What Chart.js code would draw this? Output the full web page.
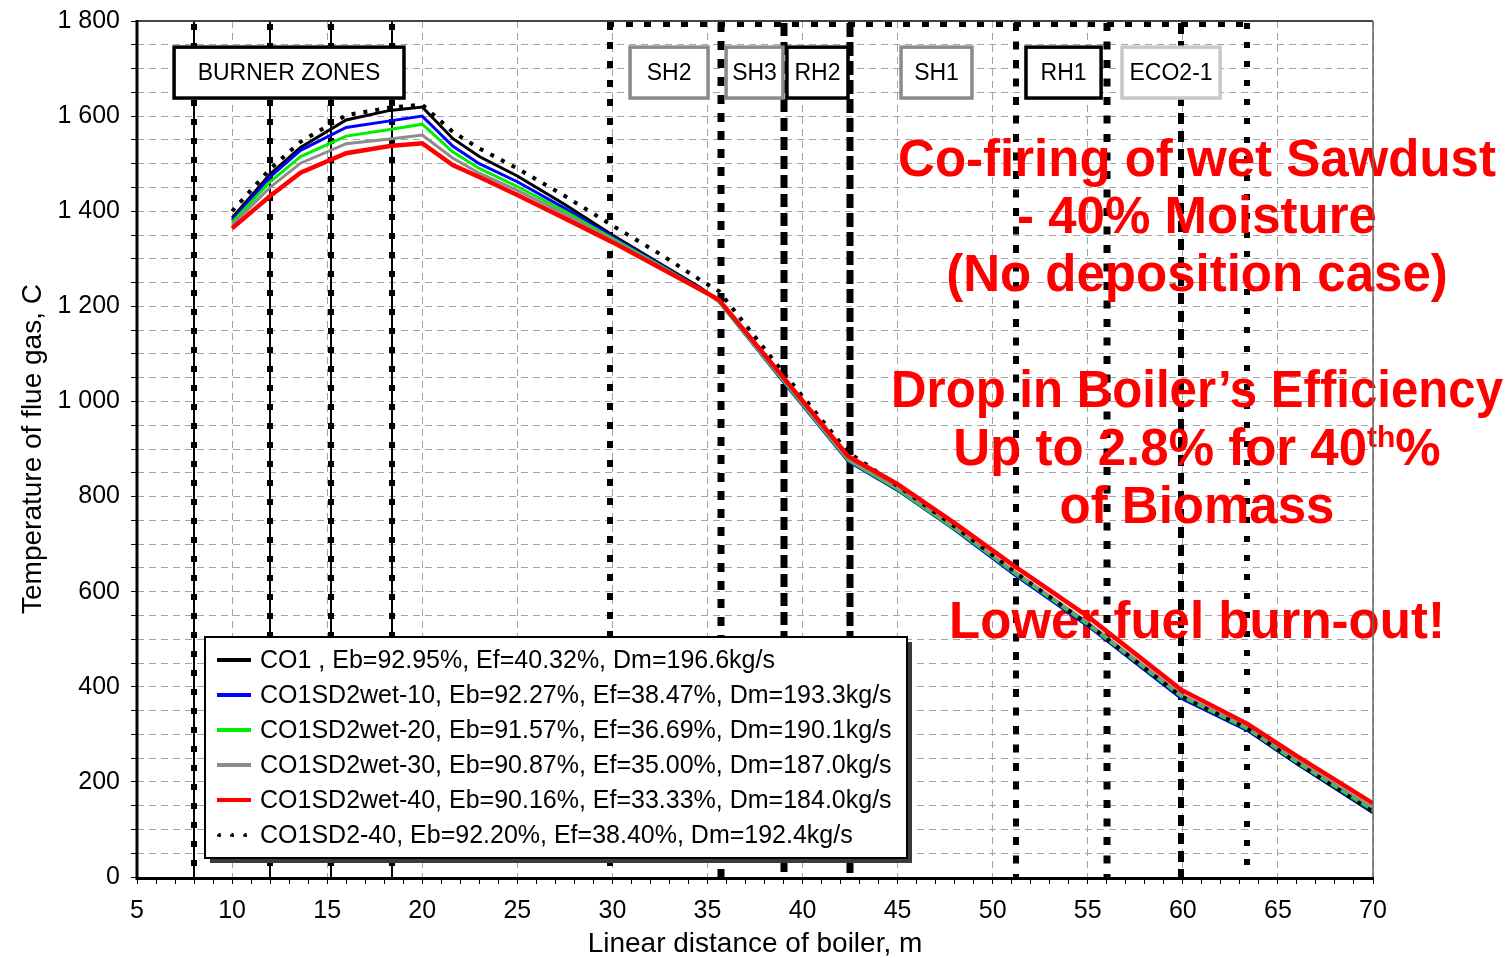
<!DOCTYPE html>
<html>
<head>
<meta charset="utf-8">
<script src="https://cdn.jsdelivr.net/npm/chart.js@4.4.1/dist/chart.umd.min.js"></script>
<style>
  html, body { margin: 0; padding: 0; background: #ffffff; }
  canvas { display: block; }
</style>
</head>
<body>
<canvas id="c" width="1511" height="958"></canvas>
<script>
// Distance along the boiler flue-gas path, m
const distance = [10, 12, 13.6, 16, 18.3, 20, 21.6, 23, 25, 27.5, 30, 32.5, 34.6, 35.6, 39, 42.4, 45, 48, 51.2, 55, 59.9, 63.4, 66, 70];

// Flue gas temperature, C
const tempCO1      = [1386, 1478, 1534, 1592, 1612, 1619, 1553, 1515, 1474, 1414, 1350, 1290, 1240, 1212, 1043, 876, 815, 732, 636, 530, 377, 309, 238, 135];
const tempWet10    = [1381, 1472, 1528, 1576, 1590, 1600, 1537, 1500, 1462, 1406, 1346, 1288, 1238, 1210, 1041, 874, 813, 730, 634, 528, 376, 308, 238, 136];
const tempWet20    = [1376, 1462, 1515, 1558, 1572, 1583, 1525, 1490, 1452, 1400, 1343, 1286, 1237, 1210, 1043, 876, 815, 732, 637, 531, 380, 311, 241, 140];
const tempWet30    = [1371, 1450, 1501, 1542, 1552, 1560, 1512, 1480, 1444, 1394, 1340, 1284, 1236, 1211, 1045, 878, 818, 735, 641, 535, 384, 315, 245, 145];
const tempWet40    = [1364, 1432, 1481, 1522, 1537, 1543, 1497, 1472, 1434, 1385, 1335, 1281, 1236, 1214, 1050, 885, 826, 744, 652, 548, 394, 322, 254, 155];
const tempSD240    = [1400, 1489, 1546, 1602, 1618, 1624, 1567, 1532, 1490, 1432, 1370, 1310, 1256, 1232, 1060, 893, 823, 737, 640, 532, 380, 312, 240, 137];

const seriesLabels = [
  'CO1 , Eb=92.95%, Ef=40.32%, Dm=196.6kg/s',
  'CO1SD2wet-10, Eb=92.27%, Ef=38.47%, Dm=193.3kg/s',
  'CO1SD2wet-20, Eb=91.57%, Ef=36.69%, Dm=190.1kg/s',
  'CO1SD2wet-30, Eb=90.87%, Ef=35.00%, Dm=187.0kg/s',
  'CO1SD2wet-40, Eb=90.16%, Ef=33.33%, Dm=184.0kg/s',
  'CO1SD2-40, Eb=92.20%, Ef=38.40%, Dm=192.4kg/s'
];

// Heat-exchanger zone boundaries along the path, m
const zoneBounds = [8, 12, 15.2, 18.4, 29.9, 35.7, 39.0, 42.5, 51.2, 56.0, 59.9, 63.4];
const zoneLabels = ['BURNER ZONES', 'SH2', 'SH3', 'RH2', 'SH1', 'RH1', 'ECO2-1'];

const noteLines = [
  'Co-firing of wet Sawdust',
  '- 40% Moisture',
  '(No deposition case)',
  'Drop in Boiler\u2019s Efficiency',
  'Up to 2.8% for 40{th}%',
  'of Biomass',
  'Lower fuel burn-out!'
];

// ---------- layout & styles ----------
const FONT = '"Liberation Sans", Arial, sans-serif';
const GRID = '#a4a4a4';

const zoneLineStyle = [
  { burner: true }, { burner: true }, { burner: true }, { burner: true },
  { w: 6, dash: [7, 12] },
  { w: 7, dash: [9, 9] },
  { w: 7, dash: [13, 6] },
  { w: 7, dash: [14, 5] },
  { w: 6, dash: [8, 10.5] },
  { w: 7, dash: [8, 10.5] },
  { w: 6, dash: [11, 7] },
  { w: 6, dash: [6, 13] }
];

const labelBoxSpan = [[6.95, 19.04], [30.93, 35.03], [35.98, 38.97], [39.18, 42.39], [45.18, 48.91], [51.75, 55.70], [56.80, 61.96]];
const labelBoxColor = ['#000000', '#8a8a8a', '#8a8a8a', '#000000', '#8a8a8a', '#000000', '#c8c8c8'];
const labelBoxTemp = [1745, 1638];

const noteY = [162, 219, 277, 393, 451, 509, 624];
const noteCenterX = 1197;

const legendBox = { x: 205, y: 637, w: 702, h: 221, row0: 660, step: 35 };

function fmtThousands(v) {
  if (v >= 1000) return Math.floor(v / 1000) + ' ' + String(v % 1000).padStart(3, '0');
  return String(v);
}

const pts = arr => distance.map((x, i) => ({ x: x, y: arr[i] }));

const datasets = [
  { label: seriesLabels[0], data: pts(tempCO1),   borderColor: '#000000', borderWidth: 3, order: 5 },
  { label: seriesLabels[1], data: pts(tempWet10), borderColor: '#0000ff', borderWidth: 3, order: 4 },
  { label: seriesLabels[2], data: pts(tempWet20), borderColor: '#00ee00', borderWidth: 3, order: 3 },
  { label: seriesLabels[3], data: pts(tempWet30), borderColor: '#8c8c8c', borderWidth: 3, order: 2 },
  { label: seriesLabels[4], data: pts(tempWet40), borderColor: '#ff0000', borderWidth: 4.5, order: 0 },
  { label: seriesLabels[5], data: pts(tempSD240), borderColor: '#000000', borderWidth: 4, borderDash: [4, 8], order: 1, dotted: true }
].map(d => Object.assign({ pointRadius: 0, tension: 0, fill: false, borderCapStyle: 'butt' }, d));

// ---------- decoration plugins ----------
const zonePlugin = {
  id: 'zones',
  beforeDatasetsDraw(chart) {
    const { ctx, chartArea: a, scales: { x, y } } = chart;
    ctx.save();
    // boundary lines
    zoneBounds.forEach((b, i) => {
      const px = Math.round(x.getPixelForValue(b));
      const st = zoneLineStyle[i];
      if (st.burner) {
        ctx.strokeStyle = '#000';
        ctx.lineWidth = 2;
        ctx.setLineDash([]);
        ctx.beginPath(); ctx.moveTo(px, a.top); ctx.lineTo(px, a.bottom); ctx.stroke();
        ctx.fillStyle = '#000';
        for (let yy = a.top + 3; yy < a.bottom - 4; yy += 19) ctx.fillRect(px - 3, yy, 6, 6);
      } else {
        ctx.strokeStyle = '#000';
        ctx.lineWidth = st.w;
        ctx.lineCap = 'butt';
        ctx.setLineDash(st.dash);
        ctx.beginPath(); ctx.moveTo(px, a.top + 2); ctx.lineTo(px, a.bottom); ctx.stroke();
      }
    });
    // dotted run along the top between the convective zones
    const xa = x.getPixelForValue(zoneBounds[4]);
    const xb = x.getPixelForValue(zoneBounds[11]);
    ctx.setLineDash([]);
    ctx.fillStyle = '#000';
    for (let xx = xa; xx <= xb; xx += 18.5) ctx.fillRect(Math.round(xx) - 3, a.top + 1, 7, 5);

    // zone label boxes
    const yTop = y.getPixelForValue(labelBoxTemp[0]);
    const yBot = y.getPixelForValue(labelBoxTemp[1]);
    zoneLabels.forEach((t, i) => {
      const x0 = x.getPixelForValue(labelBoxSpan[i][0]);
      const x1 = x.getPixelForValue(labelBoxSpan[i][1]);
      ctx.fillStyle = '#fff';
      ctx.fillRect(x0, yTop, x1 - x0, yBot - yTop);
      ctx.strokeStyle = labelBoxColor[i];
      ctx.lineWidth = 3.5;
      ctx.strokeRect(x0, yTop, x1 - x0, yBot - yTop);
      ctx.fillStyle = '#000';
      ctx.font = '23px ' + FONT;
      ctx.textAlign = 'center';
      ctx.textBaseline = 'middle';
      ctx.fillText(t, (x0 + x1) / 2, (yTop + yBot) / 2 + 1);
    });

    // red notes
    ctx.fillStyle = '#ff0000';
    ctx.textBaseline = 'middle';
    const big = 'bold 51px ' + FONT;
    const small = 'bold 30px ' + FONT;
    noteLines.forEach((line, i) => {
      const parts = line.split(/(\{[^}]*\})/).filter(s => s.length);
      let total = 0;
      const segs = parts.map(p => {
        const sup = p.startsWith('{');
        const txt = sup ? p.slice(1, -1) : p;
        ctx.font = sup ? small : big;
        const w = ctx.measureText(txt).width;
        total += w;
        return { txt, sup, w };
      });
      const squeeze = Math.min(1, 612 / total);
      let cx = noteCenterX - (total * squeeze) / 2;
      ctx.textAlign = 'left';
      segs.forEach(s => {
        ctx.font = s.sup ? small : big;
        ctx.save();
        ctx.translate(cx, noteY[i] + (s.sup ? -12 : 0));
        ctx.scale(squeeze, 1);
        ctx.fillText(s.txt, 0, 0);
        ctx.restore();
        cx += s.w * squeeze;
      });
    });
    ctx.restore();
  },
  afterDatasetsDraw(chart) {
    const { ctx, chartArea: a } = chart;
    ctx.save();
    ctx.setLineDash([]);
    // plot frame
    ctx.strokeStyle = '#444';
    ctx.lineWidth = 2;
    ctx.beginPath(); ctx.moveTo(a.left, a.top); ctx.lineTo(a.right, a.top); ctx.stroke();
    ctx.strokeStyle = '#666';
    ctx.lineWidth = 1.5;
    ctx.beginPath(); ctx.moveTo(a.right, a.top); ctx.lineTo(a.right, a.bottom); ctx.stroke();
    ctx.strokeStyle = '#000';
    ctx.lineWidth = 3;
    ctx.beginPath(); ctx.moveTo(a.left, a.top - 1); ctx.lineTo(a.left, a.bottom + 1.5); ctx.lineTo(a.right + 1, a.bottom + 1.5); ctx.stroke();

    // legend
    const L = legendBox;
    ctx.fillStyle = '#3a3a3a';
    ctx.fillRect(L.x + 5, L.y + 5, L.w, L.h);
    ctx.fillStyle = '#fff';
    ctx.fillRect(L.x, L.y, L.w, L.h);
    ctx.strokeStyle = '#000';
    ctx.lineWidth = 2;
    ctx.strokeRect(L.x, L.y, L.w, L.h);
    ctx.font = '25px ' + FONT;
    ctx.textAlign = 'left';
    ctx.textBaseline = 'middle';
    chart.data.datasets.forEach((d, i) => {
      const ry = L.row0 + i * L.step;
      if (d.dotted) {
        ctx.fillStyle = '#000';
        [219, 232, 245].forEach(px => { ctx.fillRect(px - 2, ry - 0.5, 4, 2); ctx.fillRect(px - 0.5, ry - 2, 2, 4); });
      } else {
        ctx.strokeStyle = d.borderColor;
        ctx.lineWidth = 4;
        ctx.beginPath(); ctx.moveTo(217, ry); ctx.lineTo(251, ry); ctx.stroke();
      }
      ctx.fillStyle = '#000';
      ctx.fillText(d.label, 260, ry + 1);
    });
    ctx.restore();
  }
};

new Chart(document.getElementById('c'), {
  type: 'line',
  data: { datasets },
  plugins: [zonePlugin],
  options: {
    responsive: false,
    animation: false,
    devicePixelRatio: 1,
    layout: { padding: { top: 21, right: 138, left: 0, bottom: 0 } },
    plugins: { legend: { display: false }, tooltip: { enabled: false } },
    scales: {
      x: {
        type: 'linear',
        min: 5, max: 70,
        afterFit: s => { s.height = 81; s.paddingLeft = 0; s.paddingRight = 0; },
        ticks: {
          stepSize: 1, autoSkip: false, maxRotation: 0, padding: 12,
          color: '#000', font: { family: FONT, size: 25 },
          callback: v => (v % 5 === 0 ? String(v) : '')
        },
        grid: {
          color: c => (c.tick && c.tick.value % 5 === 0 ? GRID : 'rgba(0,0,0,0)'),
          tickColor: '#000', tickLength: 7, lineWidth: 1
        },
        border: { display: false, dash: [7, 5] },
        title: {
          display: true, text: 'Linear distance of boiler, m', color: '#000',
          font: { family: FONT, size: 28, lineHeight: 1 }, padding: { top: 0, bottom: 0 }
        }
      },
      y: {
        type: 'linear',
        min: 0, max: 1800,
        afterFit: s => { s.width = 137; s.paddingTop = 0; s.paddingBottom = 0; },
        ticks: {
          stepSize: 50, autoSkip: false, padding: 11,
          color: '#000', font: { family: FONT, size: 25 },
          callback: v => (v % 200 === 0 ? fmtThousands(v) : '')
        },
        grid: { color: GRID, tickColor: '#000', tickLength: 6, lineWidth: 1 },
        border: { display: false, dash: [7, 5] },
        title: {
          display: true, text: 'Temperature of flue gas, C', color: '#000',
          font: { family: FONT, size: 28, lineHeight: 1 }, padding: { top: 19, bottom: 0 }
        }
      }
    }
  }
});
</script>
</body>
</html>
